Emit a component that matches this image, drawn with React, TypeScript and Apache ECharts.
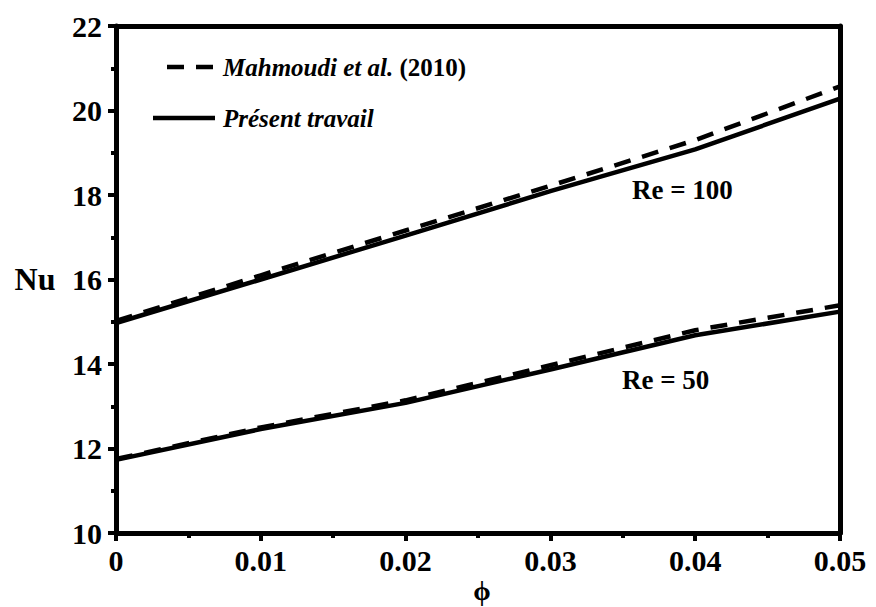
import React, { useEffect, useRef } from "react";
import * as echarts from "echarts";

// Volume fraction of nanoparticles
const phi = [0, 0.01, 0.02, 0.03, 0.04, 0.05];

// Average Nusselt number, Re = 100
const re100Present = [14.97, 16.0, 17.04, 18.09, 19.08, 20.28];
const re100Mahmoudi = [15.02, 16.1, 17.16, 18.22, 19.3, 20.57];

// Average Nusselt number, Re = 50
const re50Present = [11.73, 12.46, 13.08, 13.87, 14.68, 15.24];
const re50Mahmoudi = [11.75, 12.5, 13.14, 13.97, 14.8, 15.39];

const legendMahmoudi = "Mahmoudi et al.";
const legendYear = "(2010)";
const legendPresent = "Présent travail";
const labelRe100 = "Re = 100";
const labelRe50 = "Re = 50";
const yTitle = "Nu";
const xTitle = "ϕ";

const FONT = "Liberation Serif";
const INK = "#000";

const pairs = (ys: number[]) => phi.map((x, i) => [x, ys[i]]);

const txt = (size: number, italic = false) => ({
  fontFamily: FONT,
  fontWeight: "bold" as const,
  fontStyle: italic ? ("italic" as const) : ("normal" as const),
  fontSize: size,
  fill: INK,
});

// tick label style, applied through a rich segment
const tickRich = {
  t: { fontFamily: FONT, fontWeight: "bold" as const, fontSize: 30, color: INK },
};

export default function App() {
  const ref = useRef<HTMLDivElement>(null);

  useEffect(() => {
    if (!ref.current) return;
    const chart = echarts.init(ref.current, undefined, { renderer: "svg" });

    const solid = { color: INK, width: 4.5, type: "solid" as const };
    const dashed = { color: INK, width: 4.5, type: [17, 12] as number[] };
    const frame = { show: true, onZero: false, lineStyle: { color: INK, width: 5 } };

    chart.setOption({
      animation: false,
      backgroundColor: "#fff",
      textStyle: { fontFamily: FONT },
      grid: { left: 116, right: 36, top: 26, bottom: 74 },
      xAxis: [
        {
          type: "value",
          min: 0,
          max: 0.05,
          interval: 0.01,
          axisLine: frame,
          axisTick: { show: true, inside: false, length: 8, lineStyle: { color: INK, width: 4 } },
          minorTick: { show: true, splitNumber: 2, length: 5, lineStyle: { color: INK, width: 4 } },
          splitLine: { show: false },
          axisLabel: {
            color: INK,
            fontFamily: FONT,
            fontWeight: "bold",
            fontSize: 30,
            margin: 12,
            rich: tickRich,
            formatter: (v: number) => `{t|${v === 0 ? "0" : v.toFixed(2)}}`,
          },
        },
        {
          type: "value",
          position: "top",
          min: 0,
          max: 0.05,
          axisLine: frame,
          axisTick: { show: false },
          axisLabel: { show: false },
          splitLine: { show: false },
        },
      ],
      yAxis: [
        {
          type: "value",
          min: 10,
          max: 22,
          interval: 2,
          axisLine: frame,
          axisTick: { show: true, inside: false, length: 8, lineStyle: { color: INK, width: 4 } },
          minorTick: { show: true, splitNumber: 2, length: 5, lineStyle: { color: INK, width: 4 } },
          splitLine: { show: false },
          axisLabel: {
            color: INK,
            fontFamily: FONT,
            fontWeight: "bold",
            fontSize: 30,
            margin: 14,
            rich: tickRich,
            formatter: (v: number) => `{t|${v}}`,
          },
        },
        {
          type: "value",
          position: "right",
          min: 10,
          max: 22,
          axisLine: frame,
          axisTick: { show: false },
          axisLabel: { show: false },
          splitLine: { show: false },
        },
      ],
      series: [
        { name: "Mahmoudi Re100", type: "line", data: pairs(re100Mahmoudi), showSymbol: false, lineStyle: dashed, z: 3 },
        { name: "Present Re100", type: "line", data: pairs(re100Present), showSymbol: false, lineStyle: solid, z: 2 },
        { name: "Mahmoudi Re50", type: "line", data: pairs(re50Mahmoudi), showSymbol: false, lineStyle: dashed, z: 3 },
        { name: "Present Re50", type: "line", data: pairs(re50Present), showSymbol: false, lineStyle: solid, z: 2 },
      ],
      graphic: [
        // legend samples
        {
          type: "line",
          shape: { x1: 167, y1: 67, x2: 213, y2: 67 },
          style: { stroke: INK, lineWidth: 4.5, lineDash: [17, 12] },
        },
        {
          type: "line",
          shape: { x1: 153, y1: 118, x2: 215, y2: 118 },
          style: { stroke: INK, lineWidth: 4.5 },
        },
        {
          type: "text",
          x: 223,
          y: 67,
          style: {
            text: `{i|${legendMahmoudi}} {n|${legendYear}}`,
            verticalAlign: "middle",
            align: "left",
            ...txt(25),
            rich: {
              i: txt(25, true),
              n: txt(25),
            },
          },
        },
        {
          type: "text",
          x: 223,
          y: 118,
          style: { text: legendPresent, verticalAlign: "middle", align: "left", ...txt(25, true) },
        },
        // curve annotations
        {
          type: "text",
          x: 632,
          y: 190,
          style: { text: labelRe100, verticalAlign: "middle", align: "left", ...txt(27) },
        },
        {
          type: "text",
          x: 622,
          y: 380,
          style: { text: labelRe50, verticalAlign: "middle", align: "left", ...txt(27) },
        },
        // axis titles
        {
          type: "text",
          x: 35,
          y: 279,
          style: { text: yTitle, verticalAlign: "middle", align: "center", ...txt(32) },
        },
        {
          type: "text",
          x: 482,
          y: 590,
          style: { text: xTitle, verticalAlign: "middle", align: "center", ...txt(28) },
        },
      ],
    });

    return () => chart.dispose();
  }, []);

  return (
    <div
      ref={ref}
      style={{ position: "absolute", left: 0, top: 0, width: 876, height: 607 }}
    />
  );
}
